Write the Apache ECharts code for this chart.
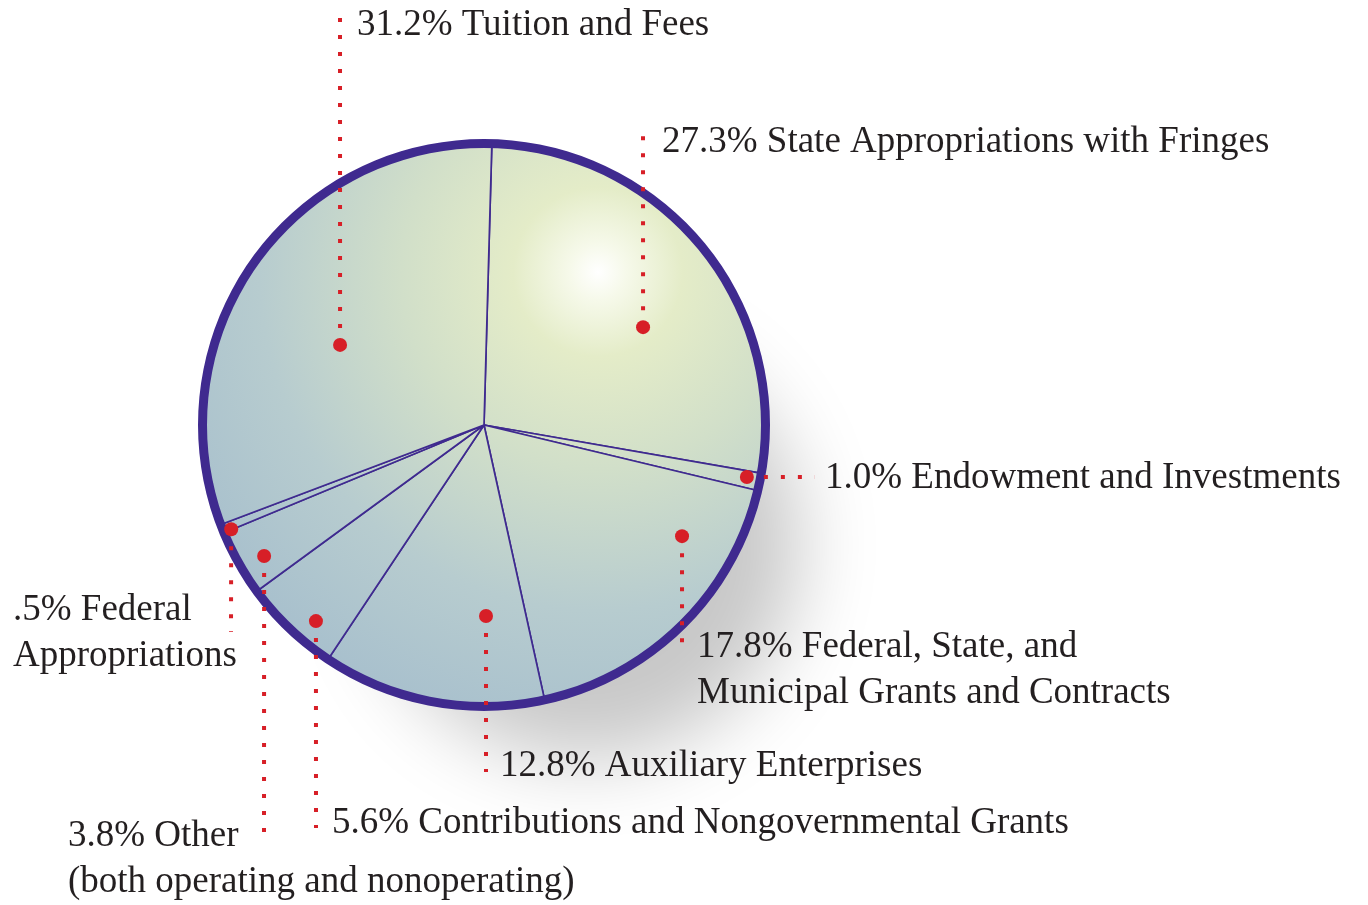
<!DOCTYPE html>
<html>
<head>
<meta charset="utf-8">
<script src="https://cdn.jsdelivr.net/npm/echarts@6/dist/echarts.min.js"></script>
<style>
  html, body { margin: 0; padding: 0; background: #fff; }
  #chart { width: 1368px; height: 905px; }
</style>
</head>
<body>
<div id="chart"></div>
<script>
// revenue sources, clockwise from the top
var names = [
  'State Appropriations with Fringes',
  'Endowment and Investments',
  'Federal, State, and\nMunicipal Grants and Contracts',
  'Auxiliary Enterprises',
  'Contributions and Nongovernmental Grants',
  'Other\n(both operating and nonoperating)',
  'Federal\nAppropriations',
  'Tuition and Fees'
];
var shares = [27.3, 1.0, 17.8, 12.8, 5.6, 3.8, 0.5, 31.2];

// label callouts: dot [radius fraction, degrees clockwise from top], line end, text anchor
var callouts = [
  {dot: [0.653, 58.4], end: [643, 135], text: [662, 142]},
  {dot: [0.937, 101.2], end: [815, 477], text: [825, 478]},
  {dot: [0.794, 119.3], end: [682, 655], text: [697, 670]},
  {dot: [0.668, 179.4], end: [486, 772], text: [500, 766]},
  {dot: [0.903, 220.6], end: [316, 828], text: [332, 823]},
  {dot: [0.895, 239.2], end: [264, 840], text: [68, 859]},
  {dot: [0.956, 247.6], end: [231, 632], text: [13, 633]},
  {dot: [0.576, 299.1], end: [340, 15], text: [357, 25]}
];

var CX = 484, CY = 425, R = 286;
var RED = '#d71f27';
var PURPLE = '#3f2a8f';

function dotPixel(c) {
  var a = c.dot[1] * Math.PI / 180;
  return [CX + R * c.dot[0] * Math.sin(a), CY - R * c.dot[0] * Math.cos(a)];
}

function pctText(v) {
  return (v < 1 ? String(v).replace(/^0/, '') : v.toFixed(1)) + '%';
}

var chart = echarts.init(document.getElementById('chart'), null, {renderer: 'canvas'});

var fill = {
  type: 'radial', x: 598, y: 272, r: 470, global: true,
  colorStops: [
    {offset: 0, color: '#ffffff'},
    {offset: 0.06, color: '#f6f9ea'},
    {offset: 0.18, color: '#e4ecc8'},
    {offset: 0.42, color: '#d1dfc9'},
    {offset: 0.72, color: '#b7cccf'},
    {offset: 1, color: '#a8c0cd'}
  ]
};

var slices = names.map(function (n, i) {
  return {name: n, value: shares[i]};
});

chart.setOption({
  animation: false,
  polar: {center: [CX, CY], radius: R},
  angleAxis: {type: 'value', min: 0, max: 360, startAngle: 90, clockwise: true, show: false},
  radiusAxis: {type: 'value', min: 0, max: 1, show: false},
  series: [
    {
      // hidden disc that casts the soft shadow to the lower right
      type: 'pie',
      silent: true,
      radius: [0, 215],
      center: [CX, CY],
      z: 1,
      label: {show: false},
      labelLine: {show: false},
      itemStyle: {
        color: '#b0c4cf',
        shadowBlur: 80,
        shadowColor: 'rgba(0,0,0,0.22)',
        shadowOffsetX: 100,
        shadowOffsetY: 120
      },
      data: [1]
    },
    {
      type: 'pie',
      silent: true,
      radius: [0, R - 4],
      center: [CX, CY],
      startAngle: 88.4,
      clockwise: true,
      z: 2,
      itemStyle: {color: fill, borderColor: PURPLE, borderWidth: 1.7},
      label: {show: false},
      labelLine: {show: false},
      data: slices
    },
    {
      // outer rim
      type: 'pie',
      silent: true,
      radius: [R - 9, R],
      center: [CX, CY],
      z: 3,
      label: {show: false},
      labelLine: {show: false},
      itemStyle: {color: PURPLE},
      data: [1]
    },
    {
      // same slices again, transparent, only to carry the callouts above the disc
      type: 'pie',
      silent: true,
      radius: [0, R - 4],
      center: [CX, CY],
      startAngle: 88.4,
      clockwise: true,
      avoidLabelOverlap: false,
      minShowLabelAngle: 0,
      z: 4,
      itemStyle: {color: 'rgba(0,0,0,0)', borderWidth: 0},
      label: {
        show: true,
        position: 'outside',
        fontFamily: 'Liberation Serif',
        fontSize: 37,
        lineHeight: 46,
        color: '#231f20',
        formatter: function (p) {
          return pctText(p.value) + ' ' + p.name;
        }
      },
      labelLine: {
        show: true,
        lineStyle: {color: RED, width: 4, type: [4, 13], cap: 'butt'}
      },
      labelLayout: function (params) {
        var c = callouts[params.dataIndex];
        var d = dotPixel(c);
        return {
          x: c.text[0],
          y: c.text[1],
          align: 'left',
          verticalAlign: 'middle',
          labelLinePoints: [d, c.end, c.end]
        };
      },
      data: slices
    },
    {
      type: 'scatter',
      coordinateSystem: 'polar',
      silent: true,
      z: 6,
      symbolSize: 14,
      itemStyle: {color: RED, opacity: 1},
      data: callouts.map(function (c) { return [c.dot[0], c.dot[1]]; })
    }
  ]
});
</script>
</body>
</html>
